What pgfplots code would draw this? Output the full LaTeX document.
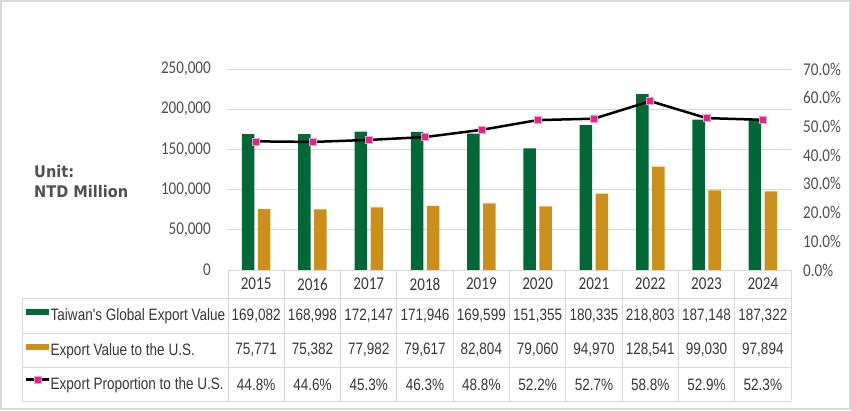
\documentclass[border=0pt]{standalone}
\usepackage{pgfplots}
\pgfplotsset{compat=1.18}
\usepackage{pgfplotstable}
\usepackage{fontspec}
\setmainfont{Carlito}
\newfontfamily\tickfam[FakeStretch=0.84]{Carlito}
\newfontfamily\tabfam[FakeStretch=0.82]{Liberation Sans}
\newfontfamily\unitfam[FakeStretch=0.91]{DejaVu Sans}

\definecolor{exgreen}{RGB}{0,104,55}
\definecolor{exgold}{RGB}{204,144,26}
\definecolor{exmag}{RGB}{224,36,140}
\definecolor{expink}{RGB}{240,160,205}
\definecolor{gridc}{RGB}{217,217,217}
\definecolor{tickc}{RGB}{80,80,80}
\definecolor{tabc}{RGB}{56,56,56}

% x, year, global export, export to US, share to US (%)
\pgfplotstableread{
x year G U P
0 2015 169082 75771 44.8
1 2016 168998 75382 44.6
2 2017 172147 77982 45.3
3 2018 171946 79617 46.3
4 2019 169599 82804 48.8
5 2020 151355 79060 52.2
6 2021 180335 94970 52.7
7 2022 218803 128541 58.8
8 2023 187148 99030 52.9
9 2024 187322 97894 52.3
}\data

\tikzset{sharemark/.style={mark=square*, mark size=3.5pt,
    mark options={fill=exmag, draw=expink, line width=0.6pt}}}

\pgfplotsset{
  base/.style={
    at={(228pt,140pt)}, anchor=south west,
    scale only axis, width=563pt, height=201pt,
    xmin=-0.5, xmax=9.5,
    axis line style={draw=none},
    major tick length=0pt,
    clip=false,
    /pgf/number format/assume math mode=true,
  },
  cell/.style={draw=none, mark=none, forget plot,
    point meta=explicit,
    every node near coord/.append style={font=\fontsize{16.5}{18}\tabfam, text=tabc, anchor=center, inner sep=0pt}},
}

\begin{document}
\begin{tikzpicture}
\useasboundingbox (0,0) rectangle (851pt,410pt);
\fill[white] (0,0) rectangle (851pt,410pt);

\begin{axis}[base,
  ymin=0, ymax=250000,
  ytick={0,50000,...,250000},
  scaled y ticks=false,
  yticklabel={\pgfmathprintnumber[fixed,precision=0,1000 sep={,}]{\tick}},
  ymajorgrids, grid style={gridc, line width=1pt},
  yticklabel style={font=\fontsize{18}{20}\tickfam, text=tickc, inner sep=0pt, xshift=-17pt},
  xtick=\empty,
  legend cell align=left,
  legend style={draw=none, fill=none, at={(axis description cs:-0.3606,-0.139)}, anchor=north west,
    font=\fontsize{16.5}{18}\tabfam, text=tabc, inner sep=0pt, row sep=0pt,
    nodes={inner sep=0pt, minimum height=34.5pt}},
]
\addplot[ybar, bar width=12.5pt, bar shift=-8pt, fill=exgreen, draw=none,
  legend image code/.code={\fill[exgreen] (0pt,0pt) rectangle (23pt,6pt);}]
  table[x=x, y=G] {\data};
\addlegendentry{Taiwan's Global Export Value}
\addplot[ybar, bar width=12.5pt, bar shift=8pt, fill=exgold, draw=none,
  legend image code/.code={\fill[exgold] (0pt,0pt) rectangle (23pt,6pt);}]
  table[x=x, y=U] {\data};
\addlegendentry{Export Value to the U.S.}
\addlegendimage{legend image code/.code={%
  \draw[black, line width=2.5pt] (0pt,5pt) -- (23pt,5pt);
  \draw[black, sharemark] plot coordinates {(11.5pt,5pt)};}}
\addlegendentry{Export Proportion to the U.S.}

% year row and data rows below the chart
\addplot[cell, every node near coord/.append style={font=\fontsize{18}{20}\tickfam},
  nodes near coords={\pgfmathprintnumber[fixed,precision=0,1000 sep={}]{\pgfplotspointmeta}}]
  table[x=x, y expr=-17400, meta=year] {\data};
\addplot[cell, nodes near coords={\pgfmathprintnumber[fixed,precision=0,1000 sep={,}]{\pgfplotspointmeta}}]
  table[x=x, y expr=-57000, meta=G] {\data};
\addplot[cell, nodes near coords={\pgfmathprintnumber[fixed,precision=0,1000 sep={,}]{\pgfplotspointmeta}}]
  table[x=x, y expr=-99500, meta=U] {\data};
\addplot[cell, nodes near coords={\pgfmathprintnumber[fixed,fixed zerofill,precision=1]{\pgfplotspointmeta}\%}]
  table[x=x, y expr=-142400, meta=P] {\data};
\end{axis}

\begin{axis}[base,
  ymin=0, ymax=70,
  ytick={0,10,...,70},
  yticklabel pos=right,
  yticklabel={\pgfmathprintnumber[fixed,fixed zerofill,precision=1]{\tick}\%},
  yticklabel style={font=\fontsize{18}{20}\tickfam, text=tickc, inner sep=0pt, xshift=12pt},
  xtick=\empty,
]
\addplot[black, line width=2.5pt, sharemark]
  table[x=x, y=P] {\data};
\end{axis}

% table grid, in pixel-sized units
\begin{scope}[x=1pt, y=1pt, gridc, line width=1pt]
\draw (228,140) -- (791,140);
\foreach \y in {112,77,43,9} \draw (22,\y) -- (791,\y);
\draw (22,112) -- (22,9);
\foreach \k in {0,...,10} \draw ({228+56.3*\k},140) -- ({228+56.3*\k},9);
\end{scope}

\node[align=left, anchor=west, font=\fontsize{16}{20}\unitfam\bfseries, text=tickc, inner sep=0pt] at (34pt,228pt) {Unit:\\NTD Million};

\draw[gridc, line width=2pt] (1pt,1pt) rectangle (850pt,409pt);
\end{tikzpicture}
\end{document}
